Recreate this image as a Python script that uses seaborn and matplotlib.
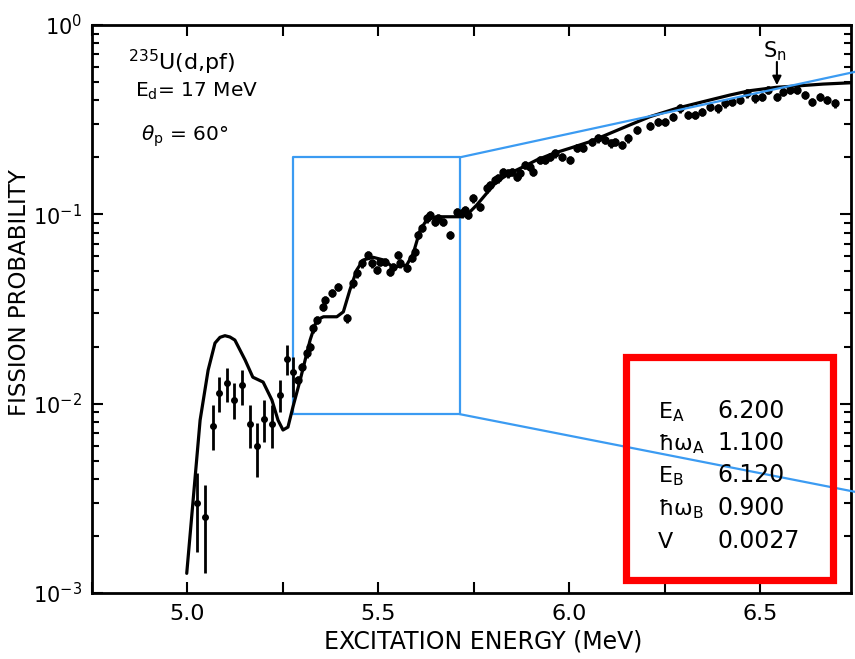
import matplotlib
matplotlib.use("Agg")
import matplotlib.pyplot as plt
import seaborn as sns
import pandas as pd
import numpy as np
from matplotlib.patches import Rectangle
from matplotlib.ticker import MultipleLocator, LogLocator, NullFormatter

# ---------------- data ----------------
curve_E = [4.998, 5.020, 5.033, 5.054, 5.072, 5.085, 5.098, 5.111, 5.124, 5.151, 5.171, 5.198,
           5.221, 5.237, 5.250, 5.263, 5.276, 5.295, 5.321, 5.338, 5.356, 5.391,
           5.408, 5.425, 5.443, 5.460, 5.486, 5.513, 5.539, 5.574, 5.591, 5.609,
           5.626, 5.652, 5.679, 5.713, 5.731, 5.757, 5.783, 5.809, 5.844, 5.879,
           5.914, 5.958, 6.001, 6.054, 6.106, 6.158, 6.211, 6.281, 6.350, 6.420,
           6.472, 6.542, 6.595, 6.664, 6.739]
curve_P = [0.00127, 0.00409, 0.00818, 0.01503, 0.0209, 0.0224, 0.02286, 0.0225, 0.02168, 0.01698, 0.0138, 0.0130,
           0.01045, 0.00818, 0.00726, 0.00752, 0.0096, 0.01334, 0.02168, 0.02767, 0.02877, 0.02877,
           0.03055, 0.0398, 0.0508, 0.0574, 0.0593, 0.0574, 0.0525, 0.0540, 0.0622, 0.0826,
           0.0933, 0.0971, 0.0971, 0.0971, 0.0991, 0.1119, 0.1291, 0.1486, 0.1648, 0.1782,
           0.1936, 0.2099, 0.2234, 0.2421, 0.2679, 0.2965, 0.3281, 0.3631, 0.3936, 0.4266,
           0.4498, 0.4688, 0.4764, 0.4875, 0.4955]

# low-energy points with explicit error bars
low_E = [5.024, 5.046, 5.066, 5.083, 5.103, 5.123, 5.143, 5.164, 5.181, 5.201, 5.220, 5.242, 5.260, 5.277]
low_P = [0.00297, 0.00251, 0.00762, 0.01142, 0.0129, 0.01045, 0.01254, 0.0078, 0.00597, 0.00826,
         0.0078, 0.0111, 0.01714, 0.01475]
low_hi = [0.0043, 0.00372, 0.00984, 0.01387, 0.0154, 0.01285, 0.01504, 0.00984, 0.0079, 0.01045,
          0.00984, 0.0133, 0.0204, 0.0177]
low_lo = [0.00164, 0.00127, 0.00569, 0.00906, 0.01023, 0.0083, 0.00984, 0.00583, 0.00411, 0.0063,
          0.00583, 0.00906, 0.01416, 0.0109]

# higher-energy points (small error bars)
hi_E = [5.290, 5.299, 5.312, 5.321, 5.329, 5.338, 5.356, 5.360, 5.377, 5.395,
        5.417, 5.434, 5.443, 5.456, 5.473, 5.482, 5.495, 5.504, 5.517, 5.530,
        5.539, 5.552, 5.556, 5.574, 5.587, 5.596, 5.604, 5.613, 5.626, 5.635,
        5.648, 5.657, 5.670, 5.687, 5.705, 5.718, 5.726, 5.735, 5.748, 5.766,
        5.783, 5.792, 5.805, 5.814, 5.827, 5.840, 5.849, 5.862, 5.870, 5.884,
        5.897, 5.905, 5.923, 5.936, 5.949, 5.962, 5.980, 6.001, 6.019, 6.036,
        6.058, 6.075, 6.093, 6.110, 6.119, 6.137, 6.154, 6.176, 6.211, 6.232,
        6.250, 6.272, 6.289, 6.311, 6.329, 6.346, 6.368, 6.390, 6.407, 6.425,
        6.446, 6.464, 6.486, 6.503, 6.520, 6.542, 6.560, 6.577, 6.595, 6.617,
        6.634, 6.656, 6.673, 6.695]
hi_P = [0.01333, 0.01567, 0.01845, 0.0200, 0.0250, 0.02766, 0.0325, 0.0352, 0.0383, 0.0415,
        0.02823, 0.0432, 0.0488, 0.0551, 0.0610, 0.0551, 0.0508, 0.0562, 0.0562, 0.0498,
        0.0529, 0.0610, 0.0551, 0.0519, 0.0586, 0.0634, 0.0778, 0.0844, 0.0953, 0.0991,
        0.0914, 0.0953, 0.0914, 0.0778, 0.1032, 0.1012, 0.1054, 0.0991, 0.1215, 0.1097,
        0.1372, 0.1428, 0.1518, 0.1549, 0.1680, 0.1647, 0.1680, 0.1580, 0.1647, 0.1820,
        0.1783, 0.1680, 0.1936, 0.1936, 0.2015, 0.2100, 0.2015, 0.1936, 0.2233, 0.2233,
        0.2420, 0.2518, 0.2470, 0.2370, 0.2420, 0.2323, 0.2518, 0.2787, 0.2925, 0.3083,
        0.3083, 0.3280, 0.3630, 0.3350, 0.3350, 0.3485, 0.3700, 0.3630, 0.3856, 0.3936,
        0.4018, 0.4355, 0.4100, 0.4180, 0.4535, 0.4180, 0.4446, 0.4535, 0.4535, 0.4266,
        0.3936, 0.4180, 0.4018, 0.3856]
hi_err_frac = 0.05

param_names = ["E$_{\\mathrm{A}}$", "\u0127\u03c9$_{\\mathrm{A}}$", "E$_{\\mathrm{B}}$",
               "\u0127\u03c9$_{\\mathrm{B}}$", "V"]
param_vals = ["6.200", "1.100", "6.120", "0.900", "0.0027"]

# zoom box (data coords) and its connector ends
box_E = (5.276, 5.713)
box_P = (0.0088, 0.20)
conn_end_E = 6.755
conn_end_P = (0.0034, 0.57)
Sn_E = 6.543

# ---------------- figure ----------------
sns.set_theme(style="ticks")
plt.rcParams["font.family"] = ["DejaVu Sans"]
plt.rcParams["mathtext.fontset"] = "dejavusans"

W, H = 855, 659
fig = plt.figure(figsize=(W / 100, H / 100), dpi=100)
fig.patch.set_facecolor("white")
ax = fig.add_axes([92 / W, 66 / H, 759 / W, 568 / H])
ax.set_facecolor("white")

df_curve = pd.DataFrame({"E": curve_E, "P": curve_P})
sns.lineplot(data=df_curve, x="E", y="P", ax=ax, color="black", lw=2.3,
             estimator=None, sort=False, zorder=4)

low_P_a = np.array(low_P)
ax.errorbar(low_E, low_P, yerr=[low_P_a - np.array(low_lo), np.array(low_hi) - low_P_a],
            fmt="o", ms=4, color="black", elinewidth=2.0, capsize=0, zorder=5)
hi_P_a = np.array(hi_P)
ax.errorbar(hi_E, hi_P, yerr=hi_P_a * hi_err_frac, fmt="o", ms=5, color="black",
            elinewidth=2.0, capsize=0, zorder=5)

ax.set_yscale("log")
ax.set_xlim(4.75, 6.737)
ax.set_ylim(1e-3, 1.0)

blue = "#3b9bf2"
ax.plot([box_E[0], box_E[1], box_E[1], box_E[0], box_E[0]],
        [box_P[0], box_P[0], box_P[1], box_P[1], box_P[0]], color=blue, lw=1.6, zorder=3)
ax.plot([box_E[1], conn_end_E], [box_P[1], conn_end_P[1]], color=blue, lw=1.6, zorder=6, clip_on=False)
ax.plot([box_E[1], conn_end_E], [box_P[0], conn_end_P[0]], color=blue, lw=1.6, zorder=6, clip_on=False)

# ticks
ax.xaxis.set_major_locator(MultipleLocator(0.5))
ax.xaxis.set_minor_locator(MultipleLocator(0.25))
ax.yaxis.set_major_locator(LogLocator(base=10, numticks=10))
ax.yaxis.set_minor_locator(LogLocator(base=10, subs=np.arange(2, 10), numticks=10))
ax.yaxis.set_minor_formatter(NullFormatter())
ax.tick_params(which="both", direction="in", top=True, right=True, color="black", width=1.5)
ax.tick_params(which="major", length=8)
ax.tick_params(axis="x", which="minor", length=8)
ax.tick_params(axis="y", which="minor", length=5)
ax.tick_params(axis="x", labelsize=16, pad=8, labelcolor="black")
ax.tick_params(axis="y", labelsize=15, pad=7, labelcolor="black")
ax.xaxis.set_major_formatter(matplotlib.ticker.FormatStrFormatter("%.1f"))
for s in ax.spines.values():
    s.set_color("black")
    s.set_linewidth(2.0)
ax.set_xlabel("")
ax.set_ylabel("")

def px(x, y):
    return x / W, 1 - y / H

fig.text(*px(483, 641), "EXCITATION ENERGY (MeV)", ha="center", va="center", fontsize=17, color="black")
fig.text(*px(20, 293), "FISSION PROBABILITY", ha="center", va="center", rotation=90, fontsize=16.5, color="black")

fig.text(*px(128, 70), "$^{235}$U(d,pf)", ha="left", va="baseline", fontsize=16, color="black")
fig.text(*px(135, 97), "E$_{\\mathrm{d}}$= 17 MeV", ha="left", va="baseline", fontsize=14.5, color="black")
fig.text(*px(141, 141), "$\\theta_{\\mathrm{p}}$ = 60°", ha="left", va="baseline", fontsize=14.5, color="black")

# Sn marker
fig.text(*px(763, 57), "S$_{\\mathrm{n}}$", ha="left", va="baseline", fontsize=15, color="black")
ax.annotate("", xy=(Sn_E, 0.465), xytext=(Sn_E, 0.66),
            arrowprops=dict(arrowstyle="-|>", color="black", lw=1.5, mutation_scale=13), zorder=7)

# parameter table
baselines = [418, 450, 482, 515, 548]
for name, val, yb in zip(param_names, param_vals, baselines):
    fig.text(*px(658, yb), name, ha="left", va="baseline", fontsize=16, color="black")
    fig.text(*px(717, yb), val, ha="left", va="baseline", fontsize=17, color="black")

fig.patches.append(Rectangle(px(626, 580), 207 / W, 223 / H, transform=fig.transFigure,
                             fill=False, ec="#ff0000", lw=5.2, zorder=10))

fig.savefig("out.png", dpi=100, facecolor="white")
